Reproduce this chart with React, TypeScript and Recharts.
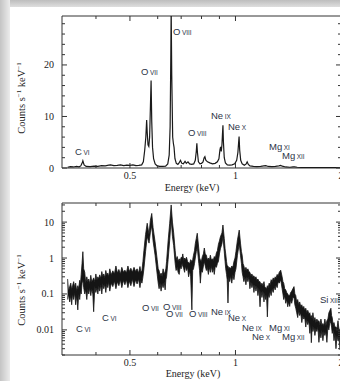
import { ComposedChart, Line, Area, XAxis, YAxis, ReferenceArea } from "recharts";

// linear panel: energy (keV), counts s-1 keV-1
const TOP_SPECTRUM: [number, number][] = [
  [0.332, 0.15], [0.338, 0.25], [0.345, 0.2], [0.352, 0.3], [0.358, 0.22], [0.362, 0.4],
  [0.365, 0.9], [0.367, 1.4], [0.37, 0.6], [0.375, 0.3], [0.385, 0.25], [0.395, 0.35],
  [0.405, 0.3], [0.415, 0.45], [0.425, 0.4], [0.435, 0.55], [0.44, 0.6], [0.45, 0.45],
  [0.46, 0.5], [0.47, 0.6], [0.48, 0.45], [0.49, 0.55], [0.5, 0.5], [0.51, 0.6],
  [0.52, 0.45], [0.53, 0.5], [0.54, 0.6], [0.546, 1.2], [0.551, 3.5], [0.555, 6],
  [0.558, 9.3], [0.56, 7], [0.563, 4.5], [0.566, 4.2], [0.569, 6], [0.572, 12],
  [0.5745, 17], [0.577, 9], [0.58, 4], [0.584, 1.8], [0.59, 0.8], [0.598, 0.4],
  [0.608, 0.3], [0.62, 0.3], [0.632, 0.35], [0.641, 0.8], [0.647, 2.5], [0.651, 8],
  [0.654, 22], [0.6555, 31], [0.658, 18], [0.662, 6], [0.665, 4.8], [0.668, 4],
  [0.672, 1.8], [0.678, 0.9], [0.685, 0.7], [0.692, 1.1], [0.697, 1.5], [0.703, 0.9],
  [0.71, 0.8], [0.718, 1.3], [0.724, 0.9], [0.732, 1.2], [0.74, 0.8], [0.75, 0.7],
  [0.76, 0.8], [0.768, 1.5], [0.773, 3.2], [0.776, 4.8], [0.779, 3], [0.784, 1.2],
  [0.792, 0.8], [0.8, 0.9], [0.808, 1.2], [0.814, 2], [0.818, 2.2], [0.823, 1.5],
  [0.832, 1.2], [0.845, 1], [0.86, 0.8], [0.875, 0.9], [0.888, 1.2], [0.897, 1.8],
  [0.903, 3.5], [0.907, 4.1], [0.911, 3.2], [0.915, 4.5], [0.918, 6.5], [0.921, 8.3],
  [0.924, 5], [0.929, 2], [0.936, 1], [0.948, 0.6], [0.962, 0.55], [0.978, 0.6],
  [0.995, 0.8], [1.008, 1.5], [1.016, 3], [1.021, 5], [1.024, 6.1], [1.028, 3.5],
  [1.035, 1.5], [1.045, 0.8], [1.06, 0.55], [1.073, 0.8], [1.08, 1.2], [1.088, 0.7],
  [1.1, 0.4], [1.125, 0.3], [1.15, 0.28], [1.18, 0.3], [1.205, 0.4], [1.22, 0.45],
  [1.24, 0.3], [1.27, 0.25], [1.3, 0.3], [1.33, 0.4], [1.345, 0.5], [1.36, 0.35],
  [1.39, 0.2], [1.43, 0.15], [1.46, 0.2], [1.475, 0.22], [1.5, 0.15], [1.56, 0.1],
  [1.62, 0.1], [1.7, 0.08], [1.78, 0.07], [1.86, 0.09], [1.93, 0.06], [2.0, 0.05],
];

// log panel: energy, lower and upper edge of the noisy band
const BOTTOM_BAND: [number, number, number][] = [
  [0.332, 0.07, 0.26], [0.334, 0.1, 0.12], [0.3366, 0.06, 0.16], [0.339, 0.09, 0.2],
  [0.341, 0.05, 0.13], [0.343, 0.1, 0.17], [0.3455, 0.07, 0.22], [0.348, 0.11, 0.15],
  [0.35, 0.05, 0.2], [0.3525, 0.09, 0.12], [0.355, 0.036, 0.17], [0.357, 0.1, 0.14],
  [0.3595, 0.07, 0.24], [0.3612, 0.12, 0.18], [0.363, 0.1, 0.35], [0.365, 0.2, 0.7],
  [0.367, 0.25, 1.5], [0.369, 0.15, 0.5], [0.3716, 0.1, 0.4], [0.374, 0.13, 0.2],
  [0.3766, 0.07, 0.3], [0.379, 0.14, 0.22], [0.3815, 0.1, 0.26], [0.384, 0.15, 0.19],
  [0.3866, 0.09, 0.33], [0.389, 0.14, 0.22], [0.3918, 0.1, 0.25], [0.394, 0.032, 0.28],
  [0.397, 0.16, 0.22], [0.3997, 0.11, 0.36], [0.4025, 0.15, 0.24], [0.405, 0.1, 0.3],
  [0.4075, 0.17, 0.26], [0.41, 0.12, 0.34], [0.413, 0.18, 0.27], [0.4156, 0.1, 0.42],
  [0.4183, 0.2, 0.3], [0.421, 0.14, 0.36], [0.424, 0.19, 0.28], [0.4267, 0.11, 0.45],
  [0.4295, 0.2, 0.33], [0.4323, 0.15, 0.38], [0.435, 0.22, 0.3], [0.438, 0.12, 0.5],
  [0.442, 0.2, 0.34], [0.4468, 0.16, 0.44], [0.4515, 0.23, 0.36], [0.456, 0.14, 0.6],
  [0.4605, 0.22, 0.38], [0.4649, 0.17, 0.48], [0.4695, 0.25, 0.36], [0.474, 0.15, 0.55],
  [0.479, 0.24, 0.4], [0.4837, 0.18, 0.46], [0.4885, 0.25, 0.38], [0.4934, 0.15, 0.6],
  [0.498, 0.23, 0.42], [0.503, 0.17, 0.52], [0.508, 0.26, 0.4], [0.5135, 0.16, 0.55],
  [0.519, 0.25, 0.42], [0.524, 0.19, 0.5], [0.529, 0.26, 0.38], [0.534, 0.15, 0.58],
  [0.5375, 0.24, 0.4], [0.541, 0.2, 0.45], [0.5445, 0.3, 0.8], [0.548, 0.5, 1.6],
  [0.554, 1.5, 4.5], [0.56, 4, 9.3], [0.5668, 2.6, 4.5], [0.5716, 5, 11],
  [0.577, 8, 17.4], [0.582, 3, 7], [0.5898, 1.2, 2.8], [0.598, 0.35, 0.9],
  [0.602, 0.2, 0.5], [0.6055, 0.14, 0.45], [0.6095, 0.2, 0.32], [0.6135, 0.12, 0.38],
  [0.6175, 0.2, 0.3], [0.6216, 0.15, 0.5], [0.626, 0.22, 0.35], [0.63, 0.13, 0.42],
  [0.633, 0.25, 0.5], [0.636, 0.3, 0.8], [0.6425, 0.9, 3], [0.649, 3, 9],
  [0.6555, 12, 30], [0.661, 4, 10], [0.6664, 2.2, 5], [0.673, 0.7, 1.6],
  [0.677, 0.45, 0.9], [0.682, 0.55, 1.1], [0.686, 0.4, 0.8], [0.691, 0.35, 0.95],
  [0.695, 0.55, 0.8], [0.7, 0.5, 1.05], [0.704, 0.7, 1.0], [0.7075, 0.6, 1.3],
  [0.712, 0.5, 0.85], [0.716, 0.4, 1.0], [0.72, 0.6, 0.9], [0.725, 0.45, 1.05],
  [0.73, 0.55, 0.8], [0.735, 0.3, 0.75], [0.74, 0.45, 0.7], [0.745, 0.3, 0.9],
  [0.751, 0.036, 0.8], [0.755, 0.45, 0.9], [0.759, 0.5, 1.2], [0.764, 0.7, 1.6],
  [0.768, 1, 2.5], [0.773, 1.5, 3.5], [0.778, 2, 4.9], [0.786, 0.7, 1.8],
  [0.79, 0.45, 1.0], [0.794, 0.2, 0.9], [0.799, 0.45, 0.8], [0.8044, 0.4, 1.1],
  [0.81, 0.6, 1.3], [0.815, 0.8, 1.9], [0.82, 0.6, 1.3], [0.826, 0.45, 1.2],
  [0.831, 0.55, 0.9], [0.837, 0.35, 1.0], [0.842, 0.55, 0.85], [0.848, 0.4, 1.2],
  [0.853, 0.6, 0.9], [0.859, 0.4, 0.95], [0.864, 0.55, 0.85], [0.87, 0.35, 1.1],
  [0.876, 0.6, 1.0], [0.8822, 0.55, 1.4], [0.888, 0.7, 1.6], [0.894, 0.8, 2.4],
  [0.9, 1.3, 3], [0.9057, 1.8, 3.9], [0.915, 2.5, 5], [0.921, 4, 8.3],
  [0.929, 1.5, 3.5], [0.934, 0.8, 1.8], [0.938, 0.5, 1.3], [0.943, 0.35, 0.8],
  [0.947, 0.25, 0.6], [0.952, 0.056, 0.6], [0.957, 0.3, 0.5], [0.963, 0.22, 0.55],
  [0.969, 0.32, 0.5], [0.976, 0.2, 0.6], [0.983, 0.35, 0.55], [0.99, 0.25, 0.8],
  [0.997, 0.4, 1.0], [1.003, 0.5, 1.5], [1.013, 1.2, 3.2], [1.025, 2.5, 6],
  [1.0335, 1.2, 2.6], [1.04, 0.7, 1.5], [1.045, 0.4, 1.2], [1.051, 0.3, 0.7],
  [1.057, 0.22, 0.6], [1.064, 0.3, 0.45], [1.071, 0.18, 0.55], [1.078, 0.3, 0.45],
  [1.085, 0.22, 0.5], [1.092, 0.3, 0.42], [1.0995, 0.14, 0.4], [1.107, 0.22, 0.32],
  [1.114, 0.15, 0.36], [1.121, 0.2, 0.3], [1.129, 0.11, 0.32], [1.136, 0.18, 0.27],
  [1.144, 0.12, 0.3], [1.151, 0.17, 0.24], [1.159, 0.09, 0.26], [1.167, 0.15, 0.22],
  [1.175, 0.044, 0.22], [1.182, 0.12, 0.18], [1.19, 0.08, 0.2], [1.198, 0.12, 0.17],
  [1.206, 0.06, 0.22], [1.212, 0.11, 0.16], [1.219, 0.07, 0.15], [1.226, 0.1, 0.14],
  [1.233, 0.023, 0.17], [1.24, 0.1, 0.15], [1.2475, 0.08, 0.2], [1.256, 0.12, 0.18],
  [1.264, 0.09, 0.25], [1.272, 0.14, 0.22], [1.281, 0.11, 0.28], [1.29, 0.16, 0.25],
  [1.298, 0.13, 0.3], [1.306, 0.18, 0.28], [1.315, 0.15, 0.35], [1.324, 0.22, 0.32],
  [1.333, 0.2, 0.4], [1.346, 0.25, 0.46], [1.3585, 0.14, 0.3], [1.366, 0.1, 0.22],
  [1.373, 0.07, 0.2], [1.382, 0.09, 0.14], [1.391, 0.055, 0.13], [1.4, 0.07, 0.11],
  [1.4095, 0.044, 0.1], [1.418, 0.06, 0.09], [1.428, 0.045, 0.09], [1.437, 0.07, 0.11],
  [1.447, 0.055, 0.12], [1.458, 0.08, 0.14], [1.469, 0.08, 0.16], [1.477, 0.05, 0.1],
  [1.486, 0.04, 0.09], [1.495, 0.03, 0.06], [1.505, 0.022, 0.07], [1.515, 0.035, 0.05],
  [1.525, 0.025, 0.06], [1.535, 0.03, 0.045], [1.546, 0.016, 0.05], [1.556, 0.025, 0.04],
  [1.566, 0.02, 0.045], [1.576, 0.022, 0.035], [1.587, 0.012, 0.04], [1.597, 0.02, 0.03],
  [1.608, 0.014, 0.035], [1.619, 0.018, 0.028], [1.63, 0.008, 0.03], [1.638, 0.015, 0.022],
  [1.646, 0.0044, 0.025], [1.655, 0.013, 0.02], [1.663, 0.009, 0.03], [1.674, 0.012, 0.018],
  [1.685, 0.007, 0.022], [1.696, 0.011, 0.016], [1.707, 0.009, 0.02], [1.718, 0.012, 0.017],
  [1.73, 0.0045, 0.018], [1.741, 0.009, 0.014], [1.753, 0.006, 0.02], [1.764, 0.01, 0.014],
  [1.776, 0.005, 0.015], [1.787, 0.009, 0.013], [1.799, 0.007, 0.02], [1.811, 0.009, 0.013],
  [1.823, 0.0045, 0.018], [1.835, 0.012, 0.02], [1.847, 0.01, 0.03], [1.86, 0.018, 0.035],
  [1.872, 0.015, 0.04], [1.88, 0.012, 0.025], [1.888, 0.008, 0.022], [1.899, 0.01, 0.014],
  [1.91, 0.005, 0.016], [1.922, 0.008, 0.012], [1.935, 0.003, 0.012], [1.948, 0.007, 0.011],
  [1.961, 0.005, 0.018], [1.974, 0.006, 0.01], [1.987, 0.0028, 0.01], [2.0, 0.004, 0.014],
];

const X_TICKS = [0.4, 0.5, 0.6, 0.7, 0.8, 0.9, 1, 2];
const X_MAJOR = [0.5, 1, 2];
const LIN_TICKS = [0, 2, 4, 6, 8, 10, 12, 14, 16, 18, 20, 22, 24, 26, 28];
const LIN_MAJOR = [0, 10, 20];
const LOG_TICKS = [
  0.002, 0.003, 0.004, 0.005, 0.006, 0.007, 0.008, 0.009,
  0.01, 0.02, 0.03, 0.04, 0.05, 0.06, 0.07, 0.08, 0.09,
  0.1, 0.2, 0.3, 0.4, 0.5, 0.6, 0.7, 0.8, 0.9,
  1, 2, 3, 4, 5, 6, 7, 8, 9, 10, 20, 30,
];
const LOG_MAJOR = [0.01, 0.1, 1, 10];

const TOP_LABELS = [
  ["C", "VI"], ["O", "VII"], ["O", "VIII"], ["O", "VIII"],
  ["Ne", "IX"], ["Ne", "X"], ["Mg", "XI"], ["Mg", "XII"],
];
const BOTTOM_LABELS = [
  ["C", "VI"], ["C", "VI"], ["O", "VII"], ["O", "VIII"], ["O", "VII"], ["O", "VIII"],
  ["Ne", "IX"], ["Ne", "X"], ["Ne", "IX"], ["Ne", "X"], ["Mg", "XI"], ["Mg", "XII"], ["Si", "XIII"],
];
// page positions of those labels (left, baseline)
const TOP_LABEL_POS = [[75, 155], [141, 75], [173, 35], [188, 136], [211, 119], [228, 130], [269, 150], [282, 159]];
const BOTTOM_LABEL_POS = [
  [76, 332], [102, 321], [142, 311], [163, 310], [166, 317], [189, 317],
  [211, 315], [228, 321], [242, 331], [252, 340], [269, 331], [282, 340], [320, 303],
];

const AX = "#333";
const SERIF = "'Liberation Serif', 'DejaVu Serif', serif";
const SANS = "'Liberation Sans', Arial, sans-serif";
const LEFT = 62;
const RIGHT = 341;

const topData = TOP_SPECTRUM.map(([e, c]) => ({ e, c }));
const bottomData = BOTTOM_BAND.map(([e, lo, hi]) => ({ e, band: [lo, hi] }));

function xTick(top: number, bottom: number) {
  return (props: any) => {
    const { x, payload } = props;
    const major = X_MAJOR.includes(payload.value);
    const len = major ? 5 : 3;
    return (
      <g>
        <line x1={x} x2={x} y1={bottom} y2={bottom - len} stroke={AX} />
        <line x1={x} x2={x} y1={top} y2={top + len} stroke={AX} />
        {major && (
          <text x={x} y={bottom + 10.5} textAnchor="middle" fontSize={10} fontFamily={SERIF} fill="#222">
            {payload.value}
          </text>
        )}
      </g>
    );
  };
}

function yTick(majors: number[]) {
  return (props: any) => {
    const { y, payload } = props;
    const major = majors.includes(payload.value);
    const len = major ? 5 : 3;
    return (
      <g>
        <line x1={LEFT} x2={LEFT + len} y1={y} y2={y} stroke={AX} />
        <line x1={RIGHT} x2={RIGHT - len} y1={y} y2={y} stroke={AX} />
        {major && (
          <text x={54} y={y + 3.5} textAnchor="end" fontSize={10} fontFamily={SERIF} fill="#222">
            {payload.value}
          </text>
        )}
      </g>
    );
  };
}

function IonLabel({ x, y, el, ion }: { x: number; y: number; el: string; ion: string }) {
  return (
    <text x={x} y={y} fontFamily={SANS} fontSize={9.5} fill="#2b3346">
      {el}
      <tspan fontSize={6.5} dx={1.5}>{ion}</tspan>
    </text>
  );
}

function YTitle({ cy }: { cy: number }) {
  return (
    <text
      transform={`translate(25, ${cy}) rotate(-90)`}
      textAnchor="middle"
      fontFamily={SERIF}
      fontSize={10.5}
      fill="#222"
    >
      Counts s<tspan fontSize={7} dy={-4}>−1</tspan>
      <tspan dy={4}> keV</tspan>
      <tspan fontSize={7} dy={-4}>−1</tspan>
    </text>
  );
}

export default function App() {
  return (
    <div style={{ position: "absolute", left: 0, top: 0, width: 340, height: 381, overflow: "hidden", background: "#fff" }}>
      <div style={{ position: "absolute", left: 0, top: 0, width: 340, height: 7, background: "linear-gradient(#bdbdbd, #dedede)" }} />
      <div style={{ position: "absolute", left: 0, top: 0, width: 10, height: 381, background: "linear-gradient(90deg, #c4c4c4, #ececec)" }} />

      <div style={{ position: "absolute", left: 0, top: 0 }}>
        <ComposedChart width={345} height={195} data={topData} margin={{ top: 16, right: 4, bottom: 7, left: 22 }}>
          <XAxis
            dataKey="e"
            type="number"
            scale="log"
            domain={[0.32, 2]}
            allowDataOverflow
            ticks={X_TICKS}
            interval={0}
            height={20}
            tickLine={false}
            axisLine={false}
            tick={xTick(16, 168)}
          />
          <YAxis
            type="number"
            domain={[0, 29.5]}
            allowDataOverflow
            ticks={LIN_TICKS}
            interval={0}
            width={40}
            tickLine={false}
            axisLine={false}
            tick={yTick(LIN_MAJOR)}
          />
          <ReferenceArea x1={0.32} x2={2} y1={0} y2={29.5} fill="none" stroke={AX} strokeWidth={1} />
          <Line dataKey="c" type="linear" stroke="#1a1a1a" strokeWidth={1.2} dot={false} isAnimationActive={false} />
        </ComposedChart>
      </div>

      <div style={{ position: "absolute", left: 0, top: 190 }}>
        <ComposedChart width={345} height={190} data={bottomData} margin={{ top: 13, right: 4, bottom: 5, left: 22 }}>
          <XAxis
            dataKey="e"
            type="number"
            scale="log"
            domain={[0.32, 2]}
            allowDataOverflow
            ticks={X_TICKS}
            interval={0}
            height={20}
            tickLine={false}
            axisLine={false}
            tick={xTick(13, 165)}
          />
          <YAxis
            type="number"
            scale="log"
            domain={[0.002, 34]}
            allowDataOverflow
            ticks={LOG_TICKS}
            interval={0}
            width={40}
            tickLine={false}
            axisLine={false}
            tick={yTick(LOG_MAJOR)}
          />
          <ReferenceArea x1={0.32} x2={2} y1={0.002} y2={34} fill="none" stroke={AX} strokeWidth={1} />
          <Area
            dataKey="band"
            type="linear"
            stroke="#151515"
            strokeWidth={0.8}
            fill="#151515"
            fillOpacity={1}
            isAnimationActive={false}
          />
        </ComposedChart>
      </div>

      <svg width={340} height={381} style={{ position: "absolute", left: 0, top: 0, pointerEvents: "none" }}>
        {TOP_LABELS.map(([el, ion], i) => (
          <IonLabel key={"t" + i} x={TOP_LABEL_POS[i][0]} y={TOP_LABEL_POS[i][1]} el={el} ion={ion} />
        ))}
        {BOTTOM_LABELS.map(([el, ion], i) => (
          <IonLabel key={"b" + i} x={BOTTOM_LABEL_POS[i][0]} y={BOTTOM_LABEL_POS[i][1]} el={el} ion={ion} />
        ))}
        <YTitle cy={98} />
        <YTitle cy={290} />
        <text x={192} y={191} textAnchor="middle" fontFamily={SERIF} fontSize={10} fill="#222">Energy (keV)</text>
        <text x={193} y={377} textAnchor="middle" fontFamily={SERIF} fontSize={10} fill="#222">Energy (keV)</text>
      </svg>
    </div>
  );
}
